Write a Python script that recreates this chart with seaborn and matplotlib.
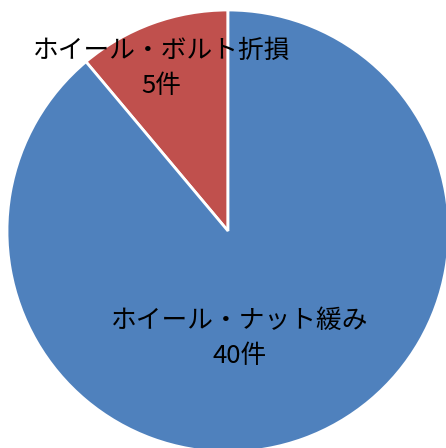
import matplotlib
matplotlib.use("Agg")
import matplotlib.pyplot as plt
import seaborn as sns

categories = ["ホイール・ボルト折損", "ホイール・ナット緩み"]
counts = [5, 40]
colors = ["#C0504D", "#4F81BD"]

sns.set_theme(style="white")
plt.rcParams["font.family"] = ["Noto Sans CJK JP", "DejaVu Sans"]

fig = plt.figure(figsize=(4.46, 4.48), dpi=100)
ax = fig.add_axes([7 / 446, -4 / 448, 442 / 446, 442 / 448])

wedges, _ = ax.pie(counts, colors=colors, startangle=90, counterclock=True,
                   wedgeprops=dict(edgecolor="white", linewidth=2.0))
ax.set_xlim(-1, 1)
ax.set_ylim(-1, 1)
ax.set_aspect("auto")
ax.axis("off")

label_pos = [(-0.30, 0.735), (0.054, -0.485)]
for name, n, (x, y) in zip(categories, counts, label_pos):
    ax.text(x, y, f"{name}\n{n}件", ha="center", va="center",
            fontsize=18.5, color="black", linespacing=1.45)

fig.savefig("out.png", dpi=100)
